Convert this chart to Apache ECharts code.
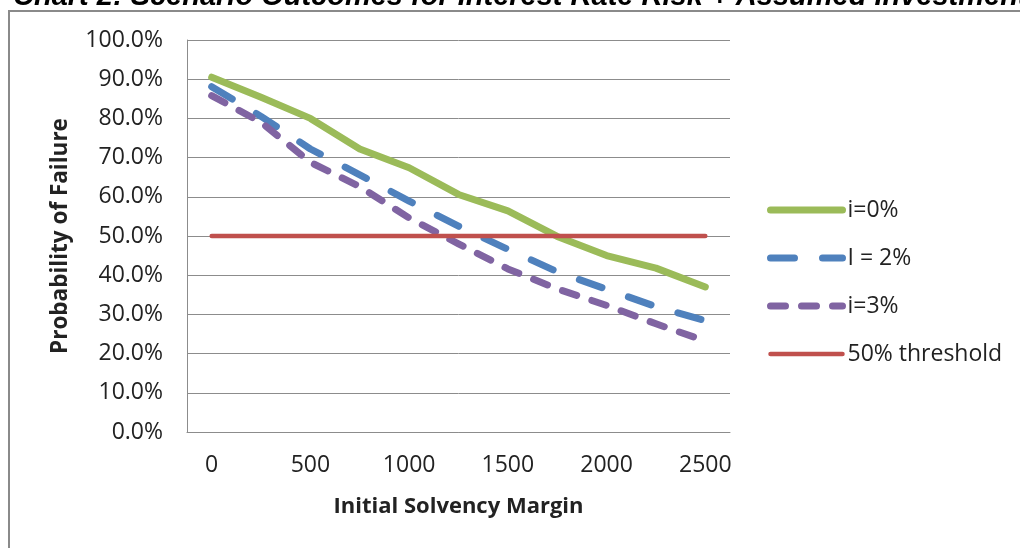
<!DOCTYPE html>
<html>
<head>
<meta charset="utf-8">
<script src="https://cdn.jsdelivr.net/npm/echarts@6/dist/echarts.min.js"></script>
<style>
html,body{margin:0;padding:0;background:#fff;}
#chart{width:1020px;height:548px;}
</style>
</head>
<body>
<div id="chart"></div>
<script>
var titleText = 'Chart 2: Scenario Outcomes for Interest Rate Risk + Assumed Investment';
var xAxisName = 'Initial Solvency Margin';
var yAxisName = 'Probability of Failure';
var categories = ['0','250','500','750','1000','1250','1500','1750','2000','2250','2500'];
var seriesNames = ['i=0%', 'I = 2%', 'i=3%', '50% threshold'];
var rate0 = [90.5, 85.4, 80.0, 72.2, 67.4, 60.6, 56.4, 49.9, 45.0, 41.8, 37.0];
var rate2 = [88.1, 80.5, 72.2, 65.6, 58.9, 52.5, 46.6, 40.9, 36.4, 32.0, 28.4];
var rate3 = [85.8, 79.0, 68.8, 62.6, 54.6, 48.0, 41.6, 36.5, 32.3, 27.6, 23.2];
var threshold = [50, 50, 50, 50, 50, 50, 50, 50, 50, 50, 50];

var FONT = '"Open Sans", "Liberation Sans", sans-serif';
var TXT = '#222';
var GRID = '#8c8c8c';
var COLORS = ['#9BBB59', '#4F81BD', '#8064A2', '#C0504D'];
var WIDTHS = [7, 7, 7, 4.5];
var DASHES = ['solid', [24, 28], [15, 16], 'solid'];

var chart = echarts.init(document.getElementById('chart'), null, {renderer: 'canvas'});

function lineStyleFor(i) {
  return {
    color: COLORS[i],
    width: WIDTHS[i],
    type: DASHES[i],
    cap: 'round',
    join: 'round'
  };
}

function lineSeries(i, data) {
  return {
    name: seriesNames[i],
    type: 'line',
    data: data,
    symbol: 'none',
    showSymbol: false,
    smooth: false,
    animation: false,
    lineStyle: lineStyleFor(i),
    itemStyle: {color: COLORS[i]}
  };
}

var legendData = seriesNames.map(function (n, i) {
  return {
    name: n,
    itemStyle: {opacity: 0},
    lineStyle: lineStyleFor(i)
  };
});

chart.setOption({
  backgroundColor: '#ffffff',
  animation: false,
  graphic: [
    {
      type: 'rect',
      shape: {x: 9, y: 11, width: 1040, height: 560},
      style: {fill: 'none', stroke: '#8a8a8a', lineWidth: 2},
      silent: true
    },
    {
      type: 'text',
      x: 13,
      y: 11,
      style: {
        text: titleText,
        fill: '#000',
        font: 'italic bold 29px "Liberation Sans", Arial, sans-serif',
        verticalAlign: 'bottom'
      },
      silent: true
    }
  ],
  grid: {left: 187, right: 290, top: 40, bottom: 116, containLabel: false},
  legend: {
    orient: 'vertical',
    left: 762,
    top: 193,
    itemWidth: 72,
    itemHeight: 14,
    itemGap: 24,
    textStyle: {fontFamily: FONT, fontSize: 23, color: TXT, lineHeight: 24},
    data: legendData
  },
  xAxis: {
    type: 'category',
    data: categories,
    boundaryGap: true,
    name: xAxisName,
    nameLocation: 'middle',
    nameGap: 64,
    nameTextStyle: {fontFamily: FONT, fontSize: 22, fontWeight: 'bold', color: TXT},
    axisLine: {show: true, lineStyle: {color: GRID, width: 1}},
    axisTick: {show: false},
    axisLabel: {interval: 1, margin: 22, fontFamily: FONT, fontSize: 23, color: TXT},
    splitLine: {show: false}
  },
  yAxis: {
    type: 'value',
    min: 0,
    max: 100,
    interval: 10,
    name: yAxisName,
    nameLocation: 'middle',
    nameGap: 115,
    nameRotate: 90,
    nameTextStyle: {fontFamily: FONT, fontSize: 22.5, fontWeight: 'bold', color: TXT},
    axisLine: {show: true, lineStyle: {color: GRID, width: 1}},
    axisTick: {show: false},
    axisLabel: {
      margin: 24,
      fontFamily: FONT,
      fontSize: 23,
      color: TXT,
      formatter: function (v) { return v.toFixed(1) + '%'; }
    },
    splitLine: {show: true, lineStyle: {color: GRID, width: 1}}
  },
  series: [
    lineSeries(0, rate0),
    lineSeries(1, rate2),
    lineSeries(2, rate3),
    lineSeries(3, threshold)
  ]
});
</script>
</body>
</html>
